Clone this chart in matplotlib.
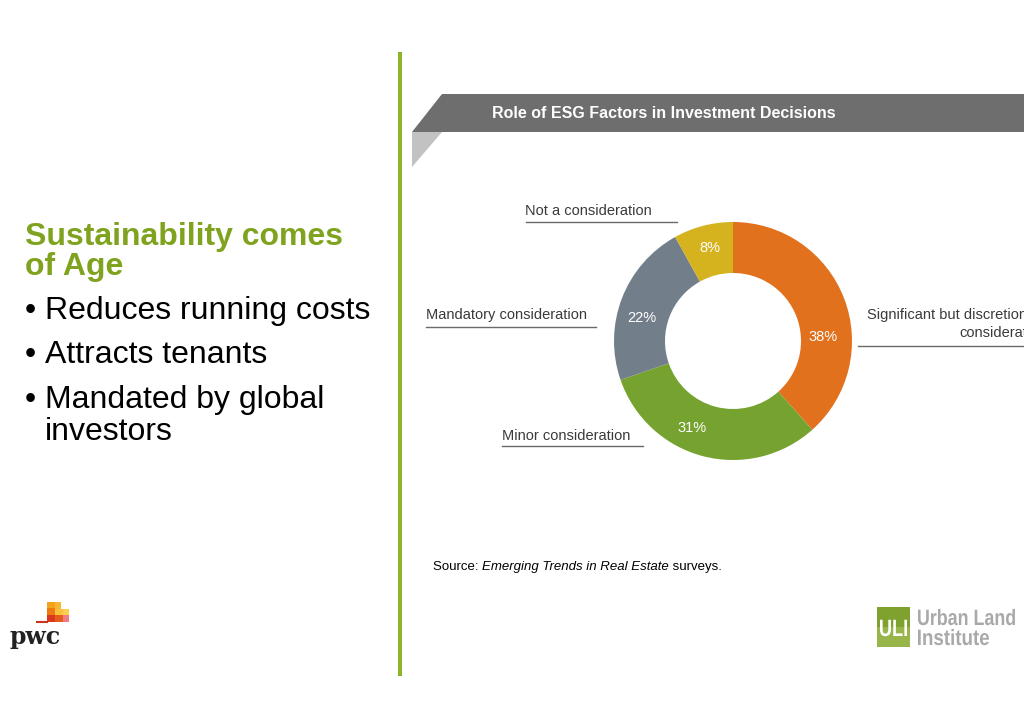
import matplotlib
matplotlib.use("Agg")
import matplotlib.pyplot as plt
from matplotlib.patches import Polygon, Rectangle, PathPatch
from matplotlib.textpath import TextPath
from matplotlib.font_manager import FontProperties
from matplotlib.transforms import Affine2D

plt.rcParams['font.family'] = ['Liberation Sans', 'DejaVu Sans']

# ---- data ----
categories = ["Significant but discretionary\nconsideration", "Minor consideration",
              "Mandatory consideration", "Not a consideration"]
values = [38, 31, 22, 8]
colors = ["#E2711D", "#76A22F", "#727F8A", "#D5B31E"]
pct_labels = ["38%", "31%", "22%", "8%"]

title_lines = ["Sustainability comes", "of Age"]
bullets = [["Reduces running costs"], ["Attracts tenants"], ["Mandated by global", "investors"]]
chart_title = "Role of ESG Factors in Investment Decisions"
source_parts = [("Source: ", "normal"), ("Emerging Trends in Real Estate", "italic"),
                (" surveys.", "normal")]

W, H = 1024, 724
fig = plt.figure(figsize=(W / 100, H / 100), dpi=100)
fig.patch.set_facecolor("white")

ax = fig.add_axes([0, 0, 1, 1])
ax.set_xlim(0, W)
ax.set_ylim(H, 0)
ax.axis("off")

# left text
for y, line in zip([237, 267], title_lines):
    ax.text(25, y, line, color="#80A31F", fontsize=23, fontweight="bold",
            va="center", ha="left")
bullet_y = [[311], [355], [400, 432]]
for ys, lines in zip(bullet_y, bullets):
    ax.text(25, ys[0], "•", fontsize=23, va="center", ha="left", color="black")
    for y, line in zip(ys, lines):
        ax.text(45, y, line, fontsize=23, va="center", ha="left", color="black")

# vertical green divider
ax.add_patch(Rectangle((398, 52), 4, 624, color="#8CB52B", lw=0))

# header banner
ax.add_patch(Polygon([(442, 94), (W, 94), (W, 132), (412, 132)], closed=True,
                     color="#6E6E6E", lw=0))
ax.add_patch(Polygon([(412, 132), (442, 132), (412, 167)], closed=True,
                     color="#C2C2C2", lw=0))
ax.text(492, 113, chart_title, color="white", fontsize=11.5, fontweight="bold",
        va="center", ha="left")

# donut chart
cx, cy, r = 733, 341, 119
pax = fig.add_axes([(cx - r) / W, (H - cy - r) / H, 2 * r / W, 2 * r / H])
pax.pie(values, colors=colors, startangle=90, counterclock=False, radius=1,
        wedgeprops=dict(width=1 - 68 / 119, edgecolor="none"))
pax.set_xlim(-1, 1)
pax.set_ylim(-1, 1)
pax.axis("off")

pct_pos = [(90 / r, 4 / r), (-41 / r, -87 / r), (-91 / r, 23 / r), (-23 / r, 93 / r)]
for (px, py), lab in zip(pct_pos, pct_labels):
    pax.text(px, py, lab, color="white", fontsize=10.5, ha="center", va="center")

# category labels with underline
lab_col = "#3A3A3A"
line_col = "#6A6A6A"
ax.text(525, 211, categories[3], fontsize=10.5, color=lab_col, ha="left", va="center")
ax.plot([526, 677], [222, 222], color=line_col, lw=1)
ax.text(426, 315, categories[2], fontsize=10.5, color=lab_col, ha="left", va="center")
ax.plot([426, 596], [327, 327], color=line_col, lw=1)
ax.text(502, 436, categories[1], fontsize=10.5, color=lab_col, ha="left", va="center")
ax.plot([502, 643], [446, 446], color=line_col, lw=1)
sig_lines = categories[0].split("\n")
ax.text(867, 315, sig_lines[0], fontsize=10.5, color=lab_col, ha="left", va="center")
ax.text(1047, 333, sig_lines[1], fontsize=10.5, color=lab_col, ha="right", va="center")
ax.plot([858, W], [346, 346], color=line_col, lw=1)

# source (pieces placed one after another)
fig.canvas.draw()
renderer = fig.canvas.get_renderer()
x = 433
for txt, sty in source_parts:
    t = ax.text(x, 567, txt, fontsize=9.5, style=sty, color="black", ha="left", va="center")
    bb = t.get_window_extent(renderer)
    x += bb.width

# pwc logo
for (x0, y0, w, h, c) in [(47, 602, 8, 6, "#F4A21C"), (47, 608, 8, 7, "#EE7A12"),
                          (55, 602, 6, 7, "#F7B733"), (55, 609, 8, 7, "#F9C23C"),
                          (47, 615, 8, 7, "#D9381E"), (55, 615, 8, 7, "#E55C1B"),
                          (63, 609, 6, 7, "#FCD04E"), (63, 615, 6, 7, "#F07D86")]:
    ax.add_patch(Rectangle((x0, y0), w, h, color=c, lw=0))
ax.plot([37, 47], [622, 622], color="#C8321E", lw=1.5)
ax.text(9, 637, "pwc", fontsize=17, fontweight="bold", family="DejaVu Serif",
        color="#222222", ha="left", va="center")

# ULI logo (condensed text via scaled text paths)
ax.add_patch(Rectangle((877, 607), 33, 40, color="#7FA12E", lw=0))
ax.add_patch(Rectangle((877, 627), 33, 20, color="#98B54A", lw=0))
fp = FontProperties(family="Liberation Sans", weight="bold")


def condensed(text, x0, y_base, cap_h, target_w, color):
    tp = TextPath((0, 0), text, size=10, prop=fp)
    ext = tp.get_extents()
    sx = target_w / ext.width
    sy = cap_h / 7.2
    tr = Affine2D().translate(-ext.x0, 0).scale(sx, -sy).translate(x0, y_base)
    ax.add_patch(PathPatch(tr.transform_path(tp), color=color, lw=0))


condensed("ULI", 880, 636, 17, 27, "white")
condensed("Urban Land", 918, 625, 16, 97, "#A9A9A9")
condensed("Institute", 918, 645, 16, 71, "#A9A9A9")

fig.savefig("out.png", dpi=100, facecolor="white")
